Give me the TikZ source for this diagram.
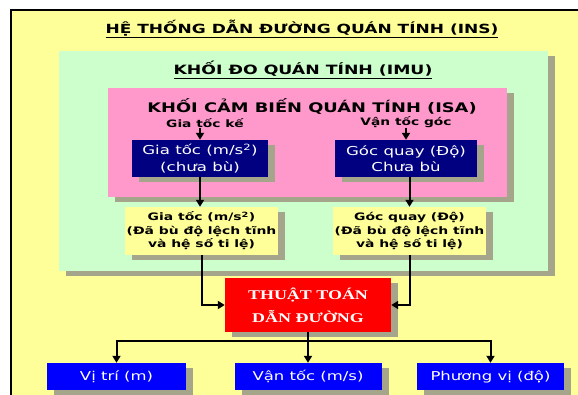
\documentclass[tikz,border=0pt]{standalone}
\usepackage{fontspec}
\setmainfont{DejaVu Sans}[FakeStretch=1.35]
\newfontfamily\algofont{Liberation Serif}[FakeStretch=1.35]
\usetikzlibrary{arrows.meta,positioning,shadows}

\definecolor{insyellow}{HTML}{FFFF99}
\definecolor{imugreen}{HTML}{CCFFCC}
\definecolor{isapink}{HTML}{FF99CC}
\definecolor{rawnavy}{HTML}{000080}
\definecolor{outblue}{HTML}{0000FF}
\definecolor{navred}{HTML}{FF0000}
\definecolor{shadowgrey}{RGB}{165,165,140}

\begin{document}
\begin{tikzpicture}[x=1pt, y=-1pt,
    boxshadow/.style={drop shadow={shadow xshift=7pt, shadow yshift=-5pt,
        opacity=1, fill=shadowgrey}},
    block/.style={boxshadow, inner sep=0pt, anchor=north west},
    heading/.style={font=\fontsize{12.8}{15}\selectfont\bfseries},
    sensor/.style={inner sep=0pt, font=\fontsize{10.2}{12}\selectfont\bfseries},
    raw/.style={boxshadow, fill=rawnavy, text=white, align=center,
        minimum height=37, inner sep=0pt, font=\fontsize{12.3}{16.5}\selectfont},
    comp/.style={boxshadow, fill=insyellow, align=center, minimum width=153,
        minimum height=48, inner sep=0pt, font=\fontsize{10.3}{13.5}\selectfont\bfseries},
    result/.style={boxshadow, fill=outblue, text=white, minimum height=27,
        inner sep=0pt, font=\fontsize{12.2}{14}\selectfont},
    flow/.style={-{Triangle[length=7pt,width=8pt]}, line width=2pt},
    node distance=12pt
]
\useasboundingbox (0,0) rectangle (578,395);
\clip (0,0) rectangle (578,395);
\draw[line width=2.4pt, fill=insyellow] (11,10) rectangle (600,420);

% nested blocks
\node[heading, font=\fontsize{12.6}{15}\selectfont\bfseries] (insTitle) at (302,29)
    {\underline{HỆ THỐNG DẪN ĐƯỜNG QUÁN TÍNH (INS)}};
\node[block, fill=imugreen, minimum width=489, minimum height=220] (imu) at (59,51) {};
\node[heading] (imuTitle) at (303,70) {\underline{KHỐI ĐO QUÁN TÍNH (IMU)}};
\node[block, fill=isapink, minimum width=399, minimum height=109] (isa) at (108,88) {};
\node[heading, font=\fontsize{13.2}{15}\selectfont\bfseries] (isaTitle) at (312,107)
    {KHỐI CẢM BIẾN QUÁN TÍNH (ISA)};

% sensors
\node[raw, minimum width=136] (accRaw) at (200,158.5) {Gia tốc (m/s\textsuperscript{2})\\(chưa bù)};
\node[raw, minimum width=142] (gyroRaw) at (406,158.5) {Góc quay (Độ)\\Chưa bù};
\node[sensor, above=of accRaw, xshift=5pt] (accSensor) {Gia tốc kế};
\node[sensor, above=of gyroRaw] (gyroSensor) {Vận tốc góc};
\node[comp] (accComp) at (201.5,231) {Gia tốc (m/s\textsuperscript{2})\\(Đã bù độ lệch tĩnh\\và hệ số ti lệ)};
\node[comp] (gyroComp) at (409.5,231) {Góc quay (Độ)\\(Đã bù độ lệch tĩnh\\và hệ số ti lệ)};

% navigation
\node[boxshadow, fill=navred, text=white, align=center, minimum width=166,
    minimum height=54, inner sep=0pt,
    font=\algofont\bfseries\fontsize{13.3}{23}\selectfont] (nav) at (308,305)
    {THUẬT TOÁN\\DẪN ĐƯỜNG};
\node[result, minimum width=139] (position) at (116.5,376.5) {Vị trí (m)};
\node[result, minimum width=147] (velocity) at (308,376.5) {Vận tốc (m/s)};
\node[result, minimum width=147] (heading) at (490.5,376.5) {Phương vị (độ)};
\coordinate (bus) at (308,341);

\draw[flow] (accSensor.south -| accRaw) -- (accRaw);
\draw[flow] (gyroSensor.south -| gyroRaw) -- (gyroRaw);
\draw[flow] (accRaw.south) -- (accRaw.south |- accComp.north);
\draw[flow] (gyroRaw.south -| gyroComp) -- (gyroComp.north);
\draw[flow] (accComp.south) |- (nav.west);
\draw[flow] (gyroComp.south) |- (nav.east);
\draw[line width=2pt] (nav.south) -- (bus);
\draw[flow] (bus) -| (position);
\draw[flow] (bus) -- (velocity);
\draw[flow] (bus) -| (heading);
\end{tikzpicture}
\end{document}
